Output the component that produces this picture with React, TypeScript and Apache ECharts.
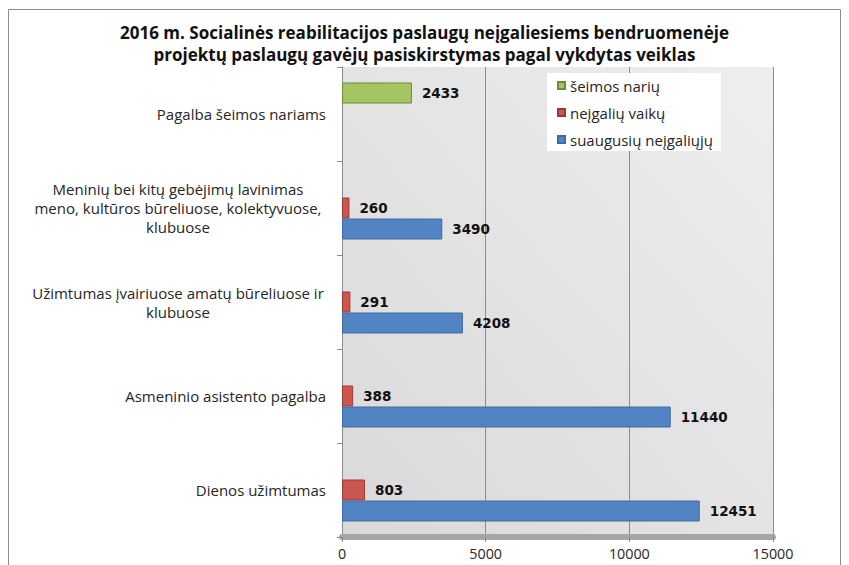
import React, { useEffect, useRef } from "react";
import * as echarts from "echarts";

const categories = [
  "Dienos užimtumas",
  "Asmeninio asistento pagalba",
  "Užimtumas įvairiuose amatų būreliuose ir\nklubuose",
  "Meninių bei kitų gebėjimų lavinimas\nmeno, kultūros būreliuose, kolektyvuose,\nklubuose",
  "Pagalba šeimos nariams",
];
const adultValues = [12451, 11440, 4208, 3490, null];
const childValues = [803, 388, 291, 260, null];
const familyValues = [null, null, null, null, 2433];
const seriesNames = ["suaugusių neįgaliųjų", "neįgalių vaikų", "šeimos narių"];
const xTicks = { min: 0, max: 15000, interval: 5000 };
const titleText =
  "2016 m. Socialinės reabilitacijos paslaugų neįgaliesiems bendruomenėje\nprojektų paslaugų gavėjų pasiskirstymas pagal vykdytas veiklas";

const FONT = "Open Sans";

export default function App() {
  const ref = useRef<HTMLDivElement>(null);
  useEffect(() => {
    document.body.style.margin = "0";
    const chart = echarts.init(ref.current!, null, { renderer: "svg" });
    const labelStyle = {
      show: true,
      position: "right" as const,
      distance: 10,
      fontFamily: "DejaVu Sans",
      fontWeight: "bold" as const,
      fontSize: 13.5,
      color: "#111",
    };
    chart.setOption({
      animation: false,
      backgroundColor: "#ffffff",
      title: {
        text: titleText,
        left: "center",
        top: 17,
        textStyle: {
          fontFamily: FONT,
          fontWeight: "bold",
          fontSize: 17,
          lineHeight: 21.5,
          color: "#111",
        },
      },
      legend: {
        orient: "vertical",
        left: 547,
        top: 73,
        data: [seriesNames[2], seriesNames[1], seriesNames[0]],
        backgroundColor: "#ffffff",
        padding: [5, 8, 4, 10],
        itemWidth: 7,
        itemHeight: 7,
        itemGap: 12,
        icon: "rect",
        textStyle: { fontFamily: FONT, fontSize: 15, color: "#262626" },
      },
      grid: {
        left: 342,
        right: 76,
        top: 67,
        bottom: 28,
        show: true,
        borderWidth: 0,
        backgroundColor: new echarts.graphic.LinearGradient(0, 1, 1, 0, [
          { offset: 0, color: "#d9d9d9" },
          { offset: 1, color: "#eeeeee" },
        ]),
      },
      xAxis: {
        type: "value",
        min: xTicks.min,
        max: xTicks.max,
        interval: xTicks.interval,
        axisLine: { show: true, lineStyle: { color: "#a6a6a6", width: 6 } },
        axisTick: { show: true, length: 5, lineStyle: { color: "#888" } },
        axisLabel: {
          fontFamily: FONT,
          fontSize: 14.3,
          color: "#262626",
          margin: 9,
          formatter: (v: number) => String(v),
        },
        splitLine: { show: true, lineStyle: { color: "#8c8c8c", width: 1 } },
      },
      yAxis: {
        type: "category",
        data: categories,
        axisLine: { show: true, lineStyle: { color: "#8c8c8c" } },
        axisTick: { show: true, length: 5, lineStyle: { color: "#8c8c8c" } },
        axisLabel: {
          fontFamily: FONT,
          fontSize: 15,
          color: "#262626",
          margin: 16,
          lineHeight: 19,
          formatter: (v: string) => {
            const lines = v.split("\n");
            if (lines.length === 1) return v;
            return lines.map((l) => `{c|${l}}`).join("\n");
          },
          rich: {
            c: {
              width: 296,
              align: "center",
              fontFamily: FONT,
              fontSize: 15,
              lineHeight: 19,
              color: "#262626",
            },
          },
        },
      },
      series: [
        {
          name: seriesNames[2],
          type: "bar",
          data: familyValues,
          barWidth: 21,
          barGap: "0%",
          itemStyle: { color: "#a5c563", borderColor: "#6f8a3a", borderWidth: 1 },
          label: labelStyle,
        },
        {
          name: seriesNames[1],
          type: "bar",
          data: childValues,
          barWidth: 21,
          barGap: "0%",
          itemStyle: { color: "#cc5550", borderColor: "#9c3a36", borderWidth: 1 },
          label: labelStyle,
        },
        {
          name: seriesNames[0],
          type: "bar",
          data: adultValues,
          barWidth: 21,
          barGap: "0%",
          itemStyle: { color: "#5284c4", borderColor: "#3f6aa3", borderWidth: 1 },
          label: labelStyle,
        },
      ],
      graphic: [
        {
          type: "rect",
          shape: { x: 8.5, y: 9.5, width: 832, height: 600 },
          style: { fill: "none", stroke: "#8c8c8c", lineWidth: 1 },
          silent: true,
          z: 100,
        },
      ],
    });
    return () => chart.dispose();
  }, []);
  return <div ref={ref} style={{ width: 849, height: 565 }} />;
}
